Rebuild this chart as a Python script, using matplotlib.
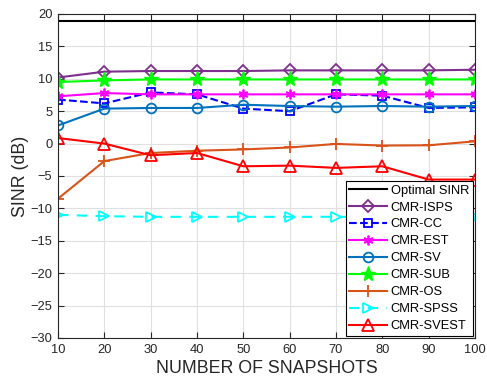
import matplotlib
matplotlib.use("Agg")
import matplotlib.pyplot as plt

plt.rcParams['font.family'] = ['Liberation Sans', 'DejaVu Sans']

snapshots = [10, 20, 30, 40, 50, 60, 70, 80, 90, 100]
optimal = [18.9] * 10
cmr_isps = [10.2, 11.1, 11.2, 11.2, 11.2, 11.3, 11.3, 11.3, 11.3, 11.4]
cmr_cc = [6.8, 6.2, 7.9, 7.6, 5.4, 5.0, 7.6, 7.4, 5.5, 5.6]
cmr_est = [7.3, 7.8, 7.6, 7.6, 7.6, 7.6, 7.6, 7.6, 7.6, 7.6]
cmr_sv = [2.8, 5.4, 5.5, 5.5, 6.0, 5.8, 5.7, 5.8, 5.7, 5.8]
cmr_sub = [9.5, 9.75, 9.9, 9.9, 9.9, 9.9, 9.9, 9.9, 9.9, 9.9]
cmr_os = [-8.5, -2.7, -1.45, -1.1, -0.9, -0.6, -0.05, -0.3, -0.26, 0.35]
cmr_spss = [-11.0, -11.2, -11.3, -11.3, -11.3, -11.3, -11.3, -11.3, -11.3, -11.4]
cmr_svest = [0.86, 0.0, -1.8, -1.45, -3.5, -3.4, -3.75, -3.5, -5.55, -5.55]

fig = plt.figure(figsize=(4.87, 3.83), dpi=100)
ax = fig.add_axes([58 / 487, 1 - 338 / 383, (475 - 58) / 487, (338 - 14) / 383])

ms = 7
ax.plot(snapshots, optimal, '-', color='black', lw=1.5, label='Optimal SINR')
ax.plot(snapshots, cmr_isps, '-', color=(0.494, 0.184, 0.556), lw=1.5, marker='D',
        ms=ms - 1, mfc='none', mew=1.3, label='CMR-ISPS')
ax.plot(snapshots, cmr_cc, '--', color='blue', lw=1.5, marker='s', ms=ms - 1.5,
        mfc='none', mew=1.3, label='CMR-CC')
ax.plot(snapshots, cmr_est, '-', color='magenta', lw=1.5, marker=(6, 2, 0), ms=ms,
        mew=1.3, label='CMR-EST')
ax.plot(snapshots, cmr_sv, '-', color=(0.0, 0.447, 0.741), lw=1.5, marker='o',
        ms=ms, mfc='none', mew=1.3, label='CMR-SV')
ax.plot(snapshots, cmr_sub, '-', color=(0.0, 1.0, 0.0), lw=1.5, marker='*',
        ms=ms + 4, mew=1.0, label='CMR-SUB')
ax.plot(snapshots, cmr_os, '-', color=(0.85, 0.325, 0.098), lw=1.5, marker='+',
        ms=ms + 1, mew=1.3, label='CMR-OS')
ax.plot(snapshots, cmr_spss, '--', color='cyan', lw=1.5, marker='>', ms=ms,
        mfc='none', mew=1.3, dashes=(5, 4), label='CMR-SPSS')
ax.plot(snapshots, cmr_svest, '-', color='red', lw=1.5, marker='^', ms=ms + 1,
        mfc='none', mew=1.3, label='CMR-SVEST')

ax.set_xlim(10, 100)
ax.set_ylim(-30, 20)
ax.set_xticks(snapshots)
ax.set_yticks(range(-30, 21, 5))
ax.grid(True, color=(0.88, 0.88, 0.88), lw=0.8)
ax.set_axisbelow(True)
ax.tick_params(direction='in', top=True, right=True, labelsize=9.3,
               colors=(0.15, 0.15, 0.15), length=4, pad=4)
for sp in ax.spines.values():
    sp.set_color((0.15, 0.15, 0.15))
    sp.set_linewidth(0.8)

ax.set_xlabel('NUMBER OF SNAPSHOTS', fontsize=12.8, color=(0.15, 0.15, 0.15), labelpad=3)
ax.set_ylabel('SINR (dB)', fontsize=12.8, color=(0.15, 0.15, 0.15), labelpad=1)

leg = ax.legend(loc='lower right', fontsize=9.3, frameon=True, fancybox=False,
                edgecolor='black', framealpha=1, borderpad=0.3, labelspacing=0.38,
                handlelength=2.9, handletextpad=0.3, borderaxespad=0.15)
leg.get_frame().set_linewidth(0.8)

fig.savefig('out.png', dpi=100)
